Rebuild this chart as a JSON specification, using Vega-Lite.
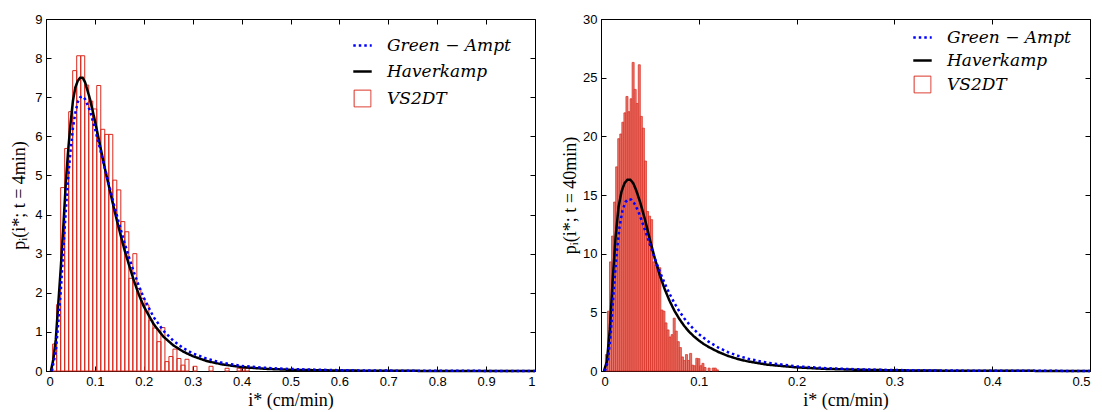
{
  "$schema": "https://vega.github.io/schema/vega-lite/v6.json",
  "background": "white",
  "padding": {"left": 10, "top": 12, "right": 3, "bottom": 0},
  "config": {
    "view": {"stroke": "black", "strokeWidth": 1},
    "concat": {"spacing": 20},
    "axis": {
      "grid": false,
      "labelFont": "Liberation Sans", "labelFontSize": 13, "labelColor": "black",
      "tickColor": "black", "domainColor": "black", "tickSize": -5, "labelPadding": 9,
      "titleFont": "Liberation Serif", "titleFontSize": 18, "titleFontWeight": "normal", "titleColor": "black"
    },
    "legend": {
      "title": null, "orient": "none", "padding": 0,
      "labelFont": "DejaVu Serif", "labelFontStyle": "italic", "labelFontSize": 17, "labelColor": "black",
      "symbolSize": 340, "symbolStrokeWidth": 2.5, "labelOffset": 16
    }
  },
  "datasets": {
    "hist4": [
      {"x0": 0.0136, "x1": 0.0218, "p": 0.69},
      {"x0": 0.0218, "x1": 0.0300, "p": 1.7},
      {"x0": 0.0300, "x1": 0.0382, "p": 4.69},
      {"x0": 0.0382, "x1": 0.0464, "p": 5.69},
      {"x0": 0.0464, "x1": 0.0546, "p": 6.63},
      {"x0": 0.0546, "x1": 0.0628, "p": 7.68},
      {"x0": 0.0628, "x1": 0.0710, "p": 8.06},
      {"x0": 0.0710, "x1": 0.0792, "p": 8.06},
      {"x0": 0.0792, "x1": 0.0874, "p": 7.31},
      {"x0": 0.0874, "x1": 0.0956, "p": 6.9},
      {"x0": 0.0956, "x1": 0.1038, "p": 6.7},
      {"x0": 0.1038, "x1": 0.1120, "p": 7.3},
      {"x0": 0.1120, "x1": 0.1202, "p": 6.18},
      {"x0": 0.1202, "x1": 0.1284, "p": 6.05},
      {"x0": 0.1284, "x1": 0.1366, "p": 6.05},
      {"x0": 0.1366, "x1": 0.1448, "p": 4.88},
      {"x0": 0.1448, "x1": 0.1530, "p": 4.63},
      {"x0": 0.1530, "x1": 0.1612, "p": 3.82},
      {"x0": 0.1612, "x1": 0.1694, "p": 3.56},
      {"x0": 0.1694, "x1": 0.1776, "p": 2.37},
      {"x0": 0.1776, "x1": 0.1858, "p": 3.0},
      {"x0": 0.1858, "x1": 0.1940, "p": 2.11},
      {"x0": 0.1940, "x1": 0.2022, "p": 1.86},
      {"x0": 0.2022, "x1": 0.2104, "p": 1.69},
      {"x0": 0.2104, "x1": 0.2186, "p": 1.3},
      {"x0": 0.2186, "x1": 0.2268, "p": 1.1},
      {"x0": 0.2268, "x1": 0.2350, "p": 0.75},
      {"x0": 0.2350, "x1": 0.2432, "p": 1.11},
      {"x0": 0.2432, "x1": 0.2514, "p": 0.24},
      {"x0": 0.2514, "x1": 0.2596, "p": 0.37},
      {"x0": 0.2596, "x1": 0.2678, "p": 0.56},
      {"x0": 0.2678, "x1": 0.2760, "p": 0.32},
      {"x0": 0.2760, "x1": 0.2842, "p": 0.15},
      {"x0": 0.2842, "x1": 0.2924, "p": 0.3},
      {"x0": 0.3006, "x1": 0.3088, "p": 0.12},
      {"x0": 0.3334, "x1": 0.3416, "p": 0.12},
      {"x0": 0.3662, "x1": 0.3744, "p": 0.07},
      {"x0": 0.3908, "x1": 0.3990, "p": 0.07},
      {"x0": 0.3990, "x1": 0.4072, "p": 0.07},
      {"x0": 0.4072, "x1": 0.4154, "p": 0.07}
    ],
    "lines4": [
      {"series": "Haverkamp", "x": 0.010, "p": 0},
      {"series": "Haverkamp", "x": 0.015, "p": 0.3},
      {"series": "Haverkamp", "x": 0.020, "p": 0.8},
      {"series": "Haverkamp", "x": 0.025, "p": 1.7},
      {"series": "Haverkamp", "x": 0.030, "p": 2.6},
      {"series": "Haverkamp", "x": 0.035, "p": 3.6},
      {"series": "Haverkamp", "x": 0.040, "p": 4.7},
      {"series": "Haverkamp", "x": 0.045, "p": 5.6},
      {"series": "Haverkamp", "x": 0.050, "p": 6.3},
      {"series": "Haverkamp", "x": 0.055, "p": 6.9},
      {"series": "Haverkamp", "x": 0.060, "p": 7.25},
      {"series": "Haverkamp", "x": 0.065, "p": 7.42},
      {"series": "Haverkamp", "x": 0.070, "p": 7.5},
      {"series": "Haverkamp", "x": 0.075, "p": 7.5},
      {"series": "Haverkamp", "x": 0.080, "p": 7.38},
      {"series": "Haverkamp", "x": 0.090, "p": 6.95},
      {"series": "Haverkamp", "x": 0.100, "p": 6.4},
      {"series": "Haverkamp", "x": 0.110, "p": 5.8},
      {"series": "Haverkamp", "x": 0.120, "p": 5.2},
      {"series": "Haverkamp", "x": 0.130, "p": 4.65},
      {"series": "Haverkamp", "x": 0.140, "p": 4.1},
      {"series": "Haverkamp", "x": 0.150, "p": 3.6},
      {"series": "Haverkamp", "x": 0.160, "p": 3.12},
      {"series": "Haverkamp", "x": 0.170, "p": 2.7},
      {"series": "Haverkamp", "x": 0.180, "p": 2.3},
      {"series": "Haverkamp", "x": 0.190, "p": 1.95},
      {"series": "Haverkamp", "x": 0.200, "p": 1.65},
      {"series": "Haverkamp", "x": 0.220, "p": 1.2},
      {"series": "Haverkamp", "x": 0.240, "p": 0.88},
      {"series": "Haverkamp", "x": 0.260, "p": 0.66},
      {"series": "Haverkamp", "x": 0.280, "p": 0.5},
      {"series": "Haverkamp", "x": 0.300, "p": 0.38},
      {"series": "Haverkamp", "x": 0.330, "p": 0.25},
      {"series": "Haverkamp", "x": 0.360, "p": 0.17},
      {"series": "Haverkamp", "x": 0.400, "p": 0.1},
      {"series": "Haverkamp", "x": 0.450, "p": 0.055},
      {"series": "Haverkamp", "x": 0.500, "p": 0.03},
      {"series": "Haverkamp", "x": 0.600, "p": 0.012},
      {"series": "Haverkamp", "x": 0.700, "p": 0.005},
      {"series": "Haverkamp", "x": 0.800, "p": 0.002},
      {"series": "Haverkamp", "x": 1.000, "p": 0},
      {"series": "Green − Ampt", "x": 0.012, "p": 0},
      {"series": "Green − Ampt", "x": 0.020, "p": 0.5},
      {"series": "Green − Ampt", "x": 0.025, "p": 1.2},
      {"series": "Green − Ampt", "x": 0.030, "p": 2.0},
      {"series": "Green − Ampt", "x": 0.035, "p": 3.0},
      {"series": "Green − Ampt", "x": 0.040, "p": 4.0},
      {"series": "Green − Ampt", "x": 0.045, "p": 4.9},
      {"series": "Green − Ampt", "x": 0.050, "p": 5.6},
      {"series": "Green − Ampt", "x": 0.055, "p": 6.2},
      {"series": "Green − Ampt", "x": 0.060, "p": 6.6},
      {"series": "Green − Ampt", "x": 0.065, "p": 6.88},
      {"series": "Green − Ampt", "x": 0.070, "p": 7.0},
      {"series": "Green − Ampt", "x": 0.075, "p": 7.02},
      {"series": "Green − Ampt", "x": 0.080, "p": 6.95},
      {"series": "Green − Ampt", "x": 0.090, "p": 6.65},
      {"series": "Green − Ampt", "x": 0.100, "p": 6.2},
      {"series": "Green − Ampt", "x": 0.110, "p": 5.7},
      {"series": "Green − Ampt", "x": 0.120, "p": 5.2},
      {"series": "Green − Ampt", "x": 0.130, "p": 4.7},
      {"series": "Green − Ampt", "x": 0.140, "p": 4.2},
      {"series": "Green − Ampt", "x": 0.150, "p": 3.75},
      {"series": "Green − Ampt", "x": 0.160, "p": 3.3},
      {"series": "Green − Ampt", "x": 0.170, "p": 2.9},
      {"series": "Green − Ampt", "x": 0.180, "p": 2.52},
      {"series": "Green − Ampt", "x": 0.190, "p": 2.17},
      {"series": "Green − Ampt", "x": 0.200, "p": 1.87},
      {"series": "Green − Ampt", "x": 0.220, "p": 1.38},
      {"series": "Green − Ampt", "x": 0.240, "p": 1.03},
      {"series": "Green − Ampt", "x": 0.260, "p": 0.78},
      {"series": "Green − Ampt", "x": 0.280, "p": 0.59},
      {"series": "Green − Ampt", "x": 0.300, "p": 0.45},
      {"series": "Green − Ampt", "x": 0.330, "p": 0.31},
      {"series": "Green − Ampt", "x": 0.360, "p": 0.21},
      {"series": "Green − Ampt", "x": 0.400, "p": 0.13},
      {"series": "Green − Ampt", "x": 0.450, "p": 0.08},
      {"series": "Green − Ampt", "x": 0.500, "p": 0.05},
      {"series": "Green − Ampt", "x": 0.600, "p": 0.02},
      {"series": "Green − Ampt", "x": 0.700, "p": 0.01},
      {"series": "Green − Ampt", "x": 0.800, "p": 0.005},
      {"series": "Green − Ampt", "x": 1.000, "p": 0.001}
    ],
    "hist40": [
      {"x0": 0.0045, "x1": 0.0066, "p": 1.4},
      {"x0": 0.0066, "x1": 0.0087, "p": 5.1},
      {"x0": 0.0087, "x1": 0.0108, "p": 9.3},
      {"x0": 0.0108, "x1": 0.0129, "p": 11.5},
      {"x0": 0.0129, "x1": 0.0150, "p": 14.4},
      {"x0": 0.0150, "x1": 0.0171, "p": 17.4},
      {"x0": 0.0171, "x1": 0.0192, "p": 19.8},
      {"x0": 0.0192, "x1": 0.0213, "p": 20.2},
      {"x0": 0.0213, "x1": 0.0234, "p": 21.2},
      {"x0": 0.0234, "x1": 0.0255, "p": 22.0},
      {"x0": 0.0255, "x1": 0.0276, "p": 23.4},
      {"x0": 0.0276, "x1": 0.0297, "p": 22.1},
      {"x0": 0.0297, "x1": 0.0318, "p": 23.2},
      {"x0": 0.0318, "x1": 0.0339, "p": 26.3},
      {"x0": 0.0339, "x1": 0.0360, "p": 24.0},
      {"x0": 0.0360, "x1": 0.0381, "p": 22.8},
      {"x0": 0.0381, "x1": 0.0402, "p": 26.1},
      {"x0": 0.0402, "x1": 0.0423, "p": 21.7},
      {"x0": 0.0423, "x1": 0.0444, "p": 20.7},
      {"x0": 0.0444, "x1": 0.0465, "p": 17.9},
      {"x0": 0.0465, "x1": 0.0486, "p": 13.6},
      {"x0": 0.0486, "x1": 0.0507, "p": 13.2},
      {"x0": 0.0507, "x1": 0.0528, "p": 12.9},
      {"x0": 0.0528, "x1": 0.0549, "p": 9.3},
      {"x0": 0.0549, "x1": 0.0570, "p": 9.0},
      {"x0": 0.0570, "x1": 0.0591, "p": 8.9},
      {"x0": 0.0591, "x1": 0.0612, "p": 8.8},
      {"x0": 0.0612, "x1": 0.0633, "p": 5.2},
      {"x0": 0.0633, "x1": 0.0654, "p": 5.1},
      {"x0": 0.0654, "x1": 0.0675, "p": 4.1},
      {"x0": 0.0675, "x1": 0.0696, "p": 3.5},
      {"x0": 0.0696, "x1": 0.0717, "p": 2.9},
      {"x0": 0.0717, "x1": 0.0738, "p": 3.1},
      {"x0": 0.0738, "x1": 0.0759, "p": 4.5},
      {"x0": 0.0759, "x1": 0.0780, "p": 3.4},
      {"x0": 0.0780, "x1": 0.0801, "p": 2.5},
      {"x0": 0.0801, "x1": 0.0822, "p": 2.0},
      {"x0": 0.0822, "x1": 0.0843, "p": 1.2},
      {"x0": 0.0843, "x1": 0.0864, "p": 0.9},
      {"x0": 0.0864, "x1": 0.0885, "p": 1.4},
      {"x0": 0.0885, "x1": 0.0906, "p": 0.9},
      {"x0": 0.0906, "x1": 0.0927, "p": 1.5},
      {"x0": 0.0927, "x1": 0.0948, "p": 0.5},
      {"x0": 0.0948, "x1": 0.0969, "p": 0.45},
      {"x0": 0.0969, "x1": 0.0990, "p": 1.08},
      {"x0": 0.0990, "x1": 0.1011, "p": 1.05},
      {"x0": 0.1011, "x1": 0.1032, "p": 0.45},
      {"x0": 0.1032, "x1": 0.1053, "p": 0.65},
      {"x0": 0.1053, "x1": 0.1074, "p": 0.3},
      {"x0": 0.1095, "x1": 0.1116, "p": 0.25},
      {"x0": 0.1137, "x1": 0.1158, "p": 0.25},
      {"x0": 0.1158, "x1": 0.1179, "p": 0.25},
      {"x0": 0.1179, "x1": 0.1200, "p": 0.1}
    ],
    "lines40": [
      {"series": "Haverkamp", "x": 0.003, "p": 0},
      {"series": "Haverkamp", "x": 0.006, "p": 0.8},
      {"series": "Haverkamp", "x": 0.009, "p": 3.5},
      {"series": "Haverkamp", "x": 0.012, "p": 7.8},
      {"series": "Haverkamp", "x": 0.015, "p": 11.5},
      {"series": "Haverkamp", "x": 0.018, "p": 14.0},
      {"series": "Haverkamp", "x": 0.021, "p": 15.3},
      {"series": "Haverkamp", "x": 0.024, "p": 16.0},
      {"series": "Haverkamp", "x": 0.027, "p": 16.3},
      {"series": "Haverkamp", "x": 0.030, "p": 16.3},
      {"series": "Haverkamp", "x": 0.033, "p": 16.0},
      {"series": "Haverkamp", "x": 0.036, "p": 15.4},
      {"series": "Haverkamp", "x": 0.040, "p": 14.4},
      {"series": "Haverkamp", "x": 0.045, "p": 12.9},
      {"series": "Haverkamp", "x": 0.050, "p": 11.2},
      {"series": "Haverkamp", "x": 0.055, "p": 9.6},
      {"series": "Haverkamp", "x": 0.060, "p": 8.2},
      {"series": "Haverkamp", "x": 0.065, "p": 7.0},
      {"series": "Haverkamp", "x": 0.070, "p": 6.0},
      {"series": "Haverkamp", "x": 0.075, "p": 5.15},
      {"series": "Haverkamp", "x": 0.080, "p": 4.45},
      {"series": "Haverkamp", "x": 0.085, "p": 3.85},
      {"series": "Haverkamp", "x": 0.090, "p": 3.35},
      {"series": "Haverkamp", "x": 0.095, "p": 2.95},
      {"series": "Haverkamp", "x": 0.100, "p": 2.6},
      {"series": "Haverkamp", "x": 0.105, "p": 2.3},
      {"series": "Haverkamp", "x": 0.110, "p": 2.05},
      {"series": "Haverkamp", "x": 0.120, "p": 1.62},
      {"series": "Haverkamp", "x": 0.130, "p": 1.28},
      {"series": "Haverkamp", "x": 0.140, "p": 1.02},
      {"series": "Haverkamp", "x": 0.150, "p": 0.82},
      {"series": "Haverkamp", "x": 0.170, "p": 0.54},
      {"series": "Haverkamp", "x": 0.200, "p": 0.31},
      {"series": "Haverkamp", "x": 0.230, "p": 0.18},
      {"series": "Haverkamp", "x": 0.260, "p": 0.11},
      {"series": "Haverkamp", "x": 0.300, "p": 0.06},
      {"series": "Haverkamp", "x": 0.350, "p": 0.03},
      {"series": "Haverkamp", "x": 0.400, "p": 0.015},
      {"series": "Haverkamp", "x": 0.500, "p": 0.005},
      {"series": "Green − Ampt", "x": 0.004, "p": 0},
      {"series": "Green − Ampt", "x": 0.007, "p": 0.8},
      {"series": "Green − Ampt", "x": 0.010, "p": 3.2},
      {"series": "Green − Ampt", "x": 0.013, "p": 6.8},
      {"series": "Green − Ampt", "x": 0.016, "p": 10.0},
      {"series": "Green − Ampt", "x": 0.019, "p": 12.3},
      {"series": "Green − Ampt", "x": 0.022, "p": 13.7},
      {"series": "Green − Ampt", "x": 0.025, "p": 14.4},
      {"series": "Green − Ampt", "x": 0.028, "p": 14.65},
      {"series": "Green − Ampt", "x": 0.031, "p": 14.6},
      {"series": "Green − Ampt", "x": 0.034, "p": 14.3},
      {"series": "Green − Ampt", "x": 0.037, "p": 13.8},
      {"series": "Green − Ampt", "x": 0.040, "p": 13.2},
      {"series": "Green − Ampt", "x": 0.045, "p": 12.0},
      {"series": "Green − Ampt", "x": 0.050, "p": 10.8},
      {"series": "Green − Ampt", "x": 0.055, "p": 9.6},
      {"series": "Green − Ampt", "x": 0.060, "p": 8.5},
      {"series": "Green − Ampt", "x": 0.065, "p": 7.5},
      {"series": "Green − Ampt", "x": 0.070, "p": 6.6},
      {"series": "Green − Ampt", "x": 0.075, "p": 5.8},
      {"series": "Green − Ampt", "x": 0.080, "p": 5.1},
      {"series": "Green − Ampt", "x": 0.085, "p": 4.5},
      {"series": "Green − Ampt", "x": 0.090, "p": 4.0},
      {"series": "Green − Ampt", "x": 0.095, "p": 3.55},
      {"series": "Green − Ampt", "x": 0.100, "p": 3.15},
      {"series": "Green − Ampt", "x": 0.110, "p": 2.5},
      {"series": "Green − Ampt", "x": 0.120, "p": 2.0},
      {"series": "Green − Ampt", "x": 0.130, "p": 1.6},
      {"series": "Green − Ampt", "x": 0.140, "p": 1.3},
      {"series": "Green − Ampt", "x": 0.150, "p": 1.05},
      {"series": "Green − Ampt", "x": 0.170, "p": 0.7},
      {"series": "Green − Ampt", "x": 0.200, "p": 0.4},
      {"series": "Green − Ampt", "x": 0.230, "p": 0.24},
      {"series": "Green − Ampt", "x": 0.260, "p": 0.15},
      {"series": "Green − Ampt", "x": 0.300, "p": 0.08},
      {"series": "Green − Ampt", "x": 0.350, "p": 0.04},
      {"series": "Green − Ampt", "x": 0.400, "p": 0.02},
      {"series": "Green − Ampt", "x": 0.500, "p": 0.007}
    ]
  },
  "hconcat": [
    {
      "width": 489,
      "height": 352,
      "layer": [
        {
          "data": {"name": "hist4"},
          "mark": {"type": "bar", "fill": "white", "fillOpacity": 0, "stroke": "#d8281c", "strokeWidth": 1},
          "encoding": {
            "x": {"field": "x0", "type": "quantitative", "scale": {"domain": [0, 1], "nice": false},
                  "axis": {"values": [0, 0.1, 0.2, 0.3, 0.4, 0.5, 0.6, 0.7, 0.8, 0.9, 1], "format": "~g", "title": "i* (cm/min)", "titlePadding": 3}},
            "x2": {"field": "x1"},
            "y": {"field": "p", "type": "quantitative", "scale": {"domain": [0, 9], "nice": false},
                  "axis": {"values": [0, 1, 2, 3, 4, 5, 6, 7, 8, 9], "title": "pᵢ(i*; t = 4min)", "titlePadding": 6}},
            "y2": {"datum": 0}
          }
        },
        {
          "data": {"name": "lines4"},
          "mark": {"type": "line", "strokeWidth": 2.5, "strokeCap": "butt"},
          "encoding": {
            "x": {"field": "x", "type": "quantitative",
                  "axis": {"orient": "top", "values": [0, 0.1, 0.2, 0.3, 0.4, 0.5, 0.6, 0.7, 0.8, 0.9, 1], "labels": false, "title": null, "domain": false}},
            "y": {"field": "p", "type": "quantitative",
                  "axis": {"orient": "right", "values": [0, 1, 2, 3, 4, 5, 6, 7, 8, 9], "labels": false, "title": null, "domain": false}},
            "color": {"field": "series", "type": "nominal",
                      "scale": {"domain": ["Green − Ampt", "Haverkamp", "VS2DT"], "range": ["#0000ff", "#000000", "#d8281c"]},
                      "legend": {"legendX": 308, "legendY": 18, "rowPadding": 8,
                                 "labelFont": "DejaVu Serif", "labelFontStyle": "italic", "labelFontSize": 17,
                                 "encode": {"symbols": {"update": {
                                   "shape": {"signal": "datum.value === 'VS2DT' ? 'square' : 'stroke'"},
                                   "size": {"signal": "datum.value === 'VS2DT' ? 280 : 340"},
                                   "strokeWidth": {"signal": "datum.value === 'VS2DT' ? 1 : 2.5"}}}}}},
            "strokeDash": {"field": "series", "type": "nominal",
                           "scale": {"domain": ["Green − Ampt", "Haverkamp", "VS2DT"], "range": [[2.5, 3], [1, 0], [1, 0]]},
                           "legend": {"legendX": 308, "legendY": 18, "rowPadding": 8,
                                      "labelFont": "DejaVu Serif", "labelFontStyle": "italic", "labelFontSize": 17}},
            "strokeWidth": {"condition": {"test": "datum.series === 'Haverkamp'", "value": 3}, "value": 2.5},
            "order": {"field": "x", "type": "quantitative"}
          }
        }
      ],
      "resolve": {"axis": {"x": "independent", "y": "independent"}}
    },
    {
      "width": 489,
      "height": 352,
      "layer": [
        {
          "data": {"name": "hist40"},
          "mark": {"type": "bar", "fill": "#e8776c", "fillOpacity": 1, "stroke": "#d8281c", "strokeWidth": 0.7},
          "encoding": {
            "x": {"field": "x0", "type": "quantitative", "scale": {"domain": [0, 0.5], "nice": false},
                  "axis": {"values": [0, 0.1, 0.2, 0.3, 0.4, 0.5], "format": "~g", "title": "i* (cm/min)", "titlePadding": 3}},
            "x2": {"field": "x1"},
            "y": {"field": "p", "type": "quantitative", "scale": {"domain": [0, 30], "nice": false},
                  "axis": {"values": [0, 5, 10, 15, 20, 25, 30], "title": "pᵢ(i*; t = 40min)", "titlePadding": 3}},
            "y2": {"datum": 0}
          }
        },
        {
          "data": {"name": "lines40"},
          "mark": {"type": "line", "strokeWidth": 2.5, "strokeCap": "butt"},
          "encoding": {
            "x": {"field": "x", "type": "quantitative",
                  "axis": {"orient": "top", "values": [0, 0.1, 0.2, 0.3, 0.4, 0.5], "labels": false, "title": null, "domain": false}},
            "y": {"field": "p", "type": "quantitative",
                  "axis": {"orient": "right", "values": [0, 5, 10, 15, 20, 25, 30], "labels": false, "title": null, "domain": false}},
            "color": {"field": "series", "type": "nominal",
                      "scale": {"domain": ["Green − Ampt", "Haverkamp", "VS2DT"], "range": ["#0000ff", "#000000", "#d8281c"]},
                      "legend": {"legendX": 313, "legendY": 10, "rowPadding": 5,
                                 "labelFont": "DejaVu Serif", "labelFontStyle": "italic", "labelFontSize": 17,
                                 "encode": {"symbols": {"update": {
                                   "shape": {"signal": "datum.value === 'VS2DT' ? 'square' : 'stroke'"},
                                   "size": {"signal": "datum.value === 'VS2DT' ? 280 : 340"},
                                   "strokeWidth": {"signal": "datum.value === 'VS2DT' ? 1 : 2.5"}}}}}},
            "strokeDash": {"field": "series", "type": "nominal",
                           "scale": {"domain": ["Green − Ampt", "Haverkamp", "VS2DT"], "range": [[2.5, 3], [1, 0], [1, 0]]},
                           "legend": {"legendX": 313, "legendY": 10, "rowPadding": 5,
                                      "labelFont": "DejaVu Serif", "labelFontStyle": "italic", "labelFontSize": 17}},
            "strokeWidth": {"condition": {"test": "datum.series === 'Haverkamp'", "value": 3}, "value": 2.5},
            "order": {"field": "x", "type": "quantitative"}
          }
        }
      ],
      "resolve": {"axis": {"x": "independent", "y": "independent"}}
    }
  ],
  "resolve": {"scale": {"color": "independent", "strokeDash": "independent"}}
}
